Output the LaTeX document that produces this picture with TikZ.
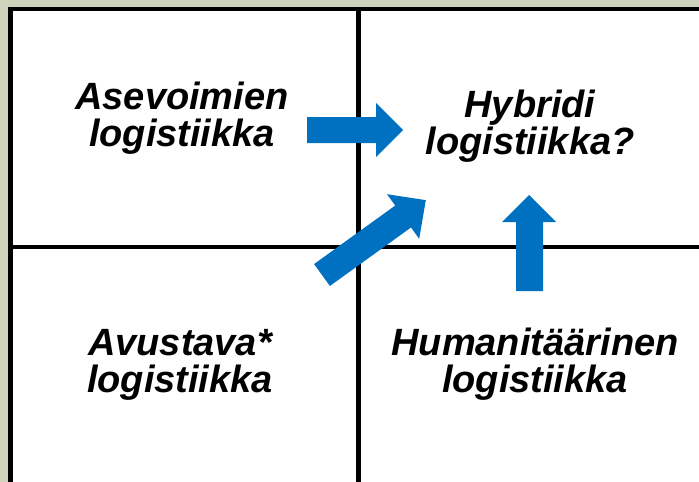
\documentclass[tikz,border=0pt]{standalone}
\usepackage{fontspec}
\setmainfont{Liberation Sans}
\begin{document}
\begin{tikzpicture}[x=1pt,y=-1pt,
  gridline/.style={line width=4.2pt,draw=black},
  blockarrow/.style={fill=arrowblue,draw=none},
  label/.style={font=\fontsize{38}{37}\selectfont\bfseries\itshape,align=center,anchor=base,inner sep=0pt,text=black}]
\definecolor{bgcol}{RGB}{206,211,187}
\definecolor{arrowblue}{RGB}{0,112,192}
\useasboundingbox (0,0) rectangle (699,482);
\clip (0,0) rectangle (699,482);
\fill[bgcol] (0,0) rectangle (699,482);
\filldraw[gridline,fill=white] (10.5,9) rectangle (720,500);
\draw[gridline] (358.5,9) -- (358.5,500);
\draw[gridline] (10.5,247) -- (720,247);
% text
\node[label] (a) at (182,146) {Asevoimien\\logistiikka};
\node[label] (h) at (530,154) {Hybridi\\logistiikka?};
\node[label] (v) at (180,392) {Avustava*\\logistiikka};
\node[label] (u) at (535,392) {Humanitäärinen\\logistiikka};
% arrows
\fill[blockarrow] (307,117) -- (376,117) -- (376,103) -- (403,130) -- (376,157) -- (376,143) -- (307,143) -- cycle;
\fill[blockarrow] (516,291) -- (516,222) -- (502,222) -- (529,195) -- (556,222) -- (543,222) -- (543,291) -- cycle;
\begin{scope}[shift={(322,275)},rotate=35.8]
\fill[blockarrow] (0,13.5) -- (100,13.5) -- (100,27.5) -- (128,0) -- (100,-27.5) -- (100,-13.5) -- (0,-13.5) -- cycle;
\end{scope}
\end{tikzpicture}
\end{document}
